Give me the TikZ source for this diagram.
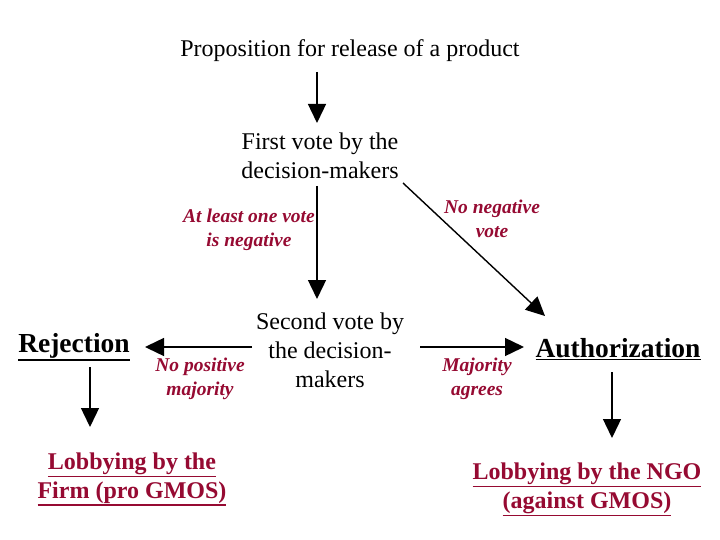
\documentclass[tikz,border=0pt]{standalone}
\usepackage{fontspec}
\setmainfont{Liberation Serif}
\usetikzlibrary{arrows.meta}
\definecolor{lblred}{RGB}{150,10,50}
\def\ulx#1{\leavevmode\vtop{\hbox{#1}\kern1.2pt\hrule height 1.8pt}}
\tikzset{
  x=1pt,y=-1pt,
  txt/.style={inner sep=0pt,align=center,font=\fontsize{24}{29}\selectfont},
  hd/.style={inner sep=0pt,align=center,font=\fontsize{27.5}{30}\selectfont\bfseries},
  cond/.style={inner sep=0pt,align=center,text=lblred,font=\fontsize{19.5}{24}\selectfont\bfseries\itshape},
  lob/.style={inner sep=0pt,align=center,text=lblred,font=\fontsize{24}{29}\selectfont\bfseries},
  arr/.style={line width=1.4pt,-{Triangle[width=18pt,length=19pt]}},
}
\begin{document}
\begin{tikzpicture}
\useasboundingbox (0,0) rectangle (720,540);
\fill[white] (0,0) rectangle (720,540);
\node[txt] (prop) at (350,51) {Proposition for release of a product};
\node[txt] (first) at (320,156) {First vote by the\\decision-makers};
\node[txt] (second) at (330,350) {Second vote by\\the decision-\\makers};
\node[hd,anchor=base] (rej) at (74,352) {\ulx{Rejection}};
\node[hd,anchor=base] (auth) at (618,357) {\ulx{Authorization}};
\node[lob,anchor=base] (lobf) at (132,498) {\ulx{Lobbying by the}\\\ulx{Firm (pro GMOS)}};
\node[lob,anchor=base] (lobn) at (587,508) {\ulx{Lobbying by the NGO}\\\ulx{(against GMOS)}};
\node[cond] at (249,230) {At least one vote\\is negative};
\node[cond] at (492,219) {No negative\\vote};
\node[cond] at (200,379) {No positive\\majority};
\node[cond] at (477,379) {Majority\\agrees};
\coordinate (p1) at (317,72);
\coordinate (p2) at (317,123);
\coordinate (f1) at (317,186);
\coordinate (f2) at (317,299);
\coordinate (d1) at (403,183);
\coordinate (d2) at (545,316);
\coordinate (l1) at (252,347);
\coordinate (l2) at (145,347);
\coordinate (r1) at (420,347);
\coordinate (r2) at (524,347);
\coordinate (rj1) at (90,367);
\coordinate (rj2) at (90,427);
\coordinate (au1) at (612,372);
\coordinate (au2) at (612,438);
\draw[arr] (p1) -- (p2);
\draw[arr] (f1) -- (f2);
\draw[arr] (d1) -- (d2);
\draw[arr] (l1) -- (l2);
\draw[arr] (r1) -- (r2);
\draw[arr] (rj1) -- (rj2);
\draw[arr] (au1) -- (au2);
\end{tikzpicture}
\end{document}
